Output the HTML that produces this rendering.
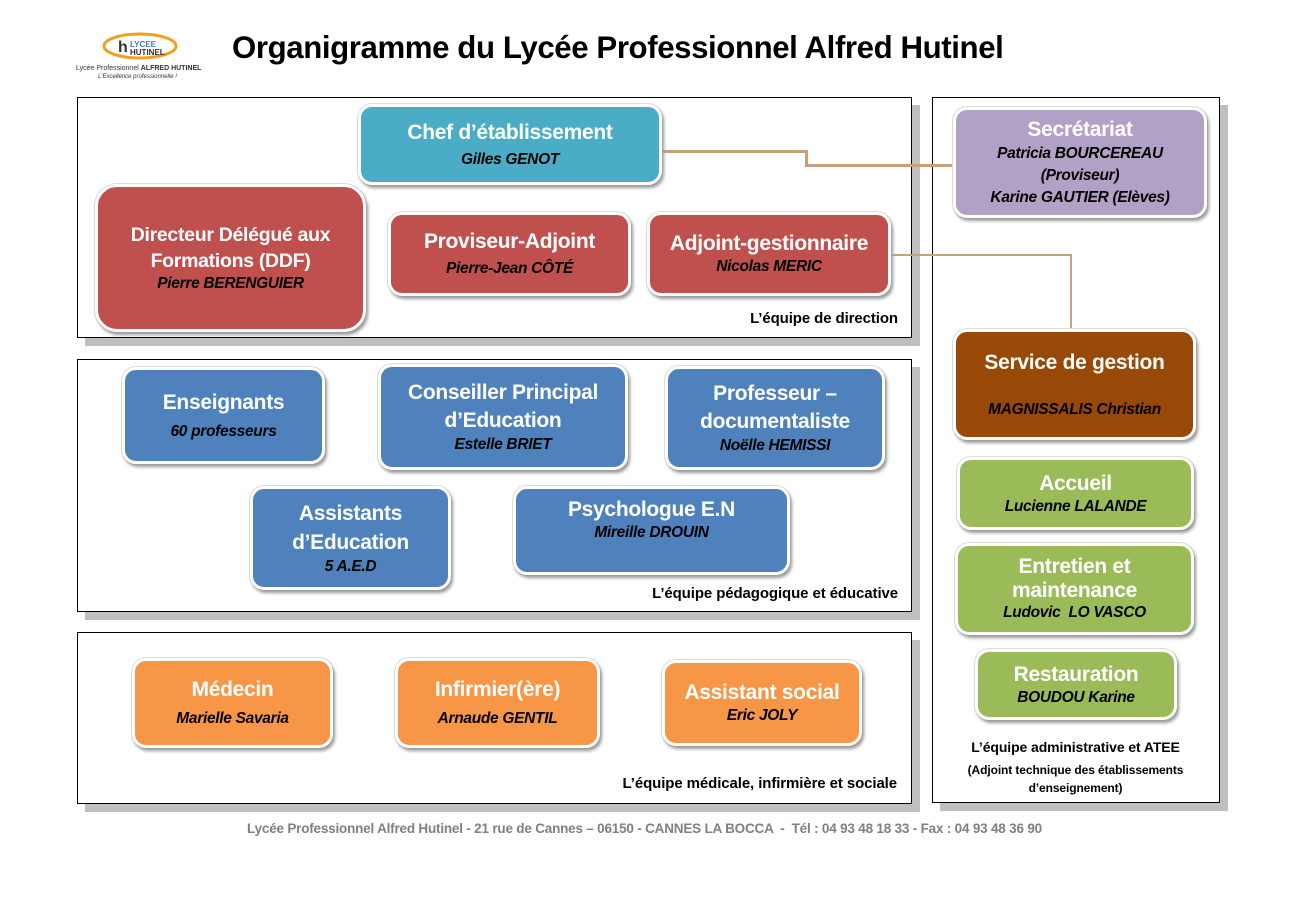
<!DOCTYPE html>
<html><head><meta charset="utf-8"><style>
body{margin:0;width:1289px;height:911px;background:#fff;position:relative;font-family:"Liberation Sans",sans-serif;overflow:hidden}
.a{position:absolute}
.panel{position:absolute;border:1px solid #000;background:#fff;box-shadow:8px 8px 0 #bfbfbf}
.box{position:absolute;box-sizing:border-box;border:3px solid #fff;border-radius:14px;box-shadow:2px 3px 3px #999,0 0 0 1px #ddd;color:#fff;text-align:center;display:flex;flex-direction:column;justify-content:center;align-items:center;letter-spacing:-0.3px;white-space:nowrap}
.t{font-weight:bold;font-size:21px;line-height:26px}
.n{font-weight:bold;font-style:italic;font-size:15.5px;color:#000;line-height:20px}
.lbl{position:absolute;font-weight:bold;font-size:15px;color:#000;letter-spacing:-0.1px;white-space:nowrap}
.ln{position:absolute;background:#c9a07e}
</style></head><body>
<div class="a" style="left:100px;top:30px;width:80px;height:34px">
<svg width="80" height="34"><ellipse cx="40" cy="16" rx="36" ry="12" fill="none" stroke="#f0a020" stroke-width="3"/><text x="18" y="22" font-family="Liberation Sans" font-weight="bold" font-size="16" fill="#333">h</text><text x="30" y="17" font-family="Liberation Sans" font-weight="bold" font-size="8" fill="#4a7ab5">LYCEE</text><text x="30" y="25" font-family="Liberation Sans" font-weight="bold" font-size="8" fill="#333">HUTINEL</text></svg></div>
<div class="a" style="left:76px;top:65px;font-size:7px;color:#333">Lycée Professionnel <b>ALFRED HUTINEL</b></div>
<div class="a" style="left:98px;top:74px;font-size:6px;font-style:italic;color:#333">L'Excellence professionnelle !</div>
<div class="a" style="left:232px;top:30px;font-size:31.2px;font-weight:bold;letter-spacing:-0.4px;white-space:nowrap">Organigramme du Lycée Professionnel Alfred Hutinel</div>

<div class="panel" style="left:77px;top:97px;width:833px;height:239px"></div>
<div class="panel" style="left:77px;top:359px;width:833px;height:251px"></div>
<div class="panel" style="left:77px;top:632px;width:833px;height:170px"></div>
<div class="panel" style="left:932px;top:97px;width:286px;height:704px"></div>

<div class="ln" style="left:662px;top:150px;width:146px;height:3px"></div>
<div class="ln" style="left:805px;top:150px;width:3px;height:17px"></div>
<div class="ln" style="left:805px;top:164px;width:150px;height:3px"></div>
<div class="ln" style="left:891px;top:254px;width:181px;height:2px"></div>
<div class="ln" style="left:1070px;top:254px;width:2px;height:76px"></div>

<div class="box" style="left:358px;top:104px;width:304px;height:81px;background:#4bacc6"><div class="t">Chef d’établissement</div><div class="n" style="margin-top:4px">Gilles GENOT</div></div>
<div class="box" style="left:95px;top:184px;width:271px;height:148px;background:#c0504d;border-radius:22px"><div class="t" style="font-size:19.5px">Directeur Délégué aux<br>Formations (DDF)</div><div class="n">Pierre BERENGUIER</div></div>
<div class="box" style="left:388px;top:212px;width:243px;height:84px;background:#c0504d"><div class="t">Proviseur-Adjoint</div><div class="n" style="margin-top:4px">Pierre-Jean CÔTÉ</div></div>
<div class="box" style="left:647px;top:212px;width:244px;height:84px;background:#c0504d"><div class="t">Adjoint-gestionnaire</div><div class="n">Nicolas MERIC</div></div>
<div class="lbl" style="right:391px;top:310px">L’équipe de direction</div>

<div class="box" style="left:953px;top:107px;width:254px;height:111px;background:#b2a1c7"><div class="t">Secrétariat</div><div class="n" style="line-height:22px">Patricia BOURCEREAU<br>(Proviseur)<br>Karine GAUTIER (Elèves)</div></div>
<div class="box" style="left:953px;top:329px;width:243px;height:111px;background:#984807"><div class="t">Service de gestion</div><div class="n" style="margin-top:24px">MAGNISSALIS Christian</div></div>
<div class="box" style="left:957px;top:457px;width:237px;height:73px;background:#9bbb59"><div class="t">Accueil</div><div class="n">Lucienne LALANDE</div></div>
<div class="box" style="left:955px;top:543px;width:239px;height:92px;background:#9bbb59"><div class="t" style="line-height:24px">Entretien et<br>maintenance</div><div class="n">Ludovic &nbsp;LO VASCO</div></div>
<div class="box" style="left:975px;top:649px;width:202px;height:71px;background:#9bbb59"><div class="t">Restauration</div><div class="n">BOUDOU Karine</div></div>
<div class="lbl" style="left:932px;top:739px;width:287px;text-align:center;font-size:14px">L’équipe administrative et ATEE</div>
<div class="lbl" style="left:932px;top:761px;width:287px;text-align:center;font-size:12px;line-height:18px">(Adjoint technique des établissements<br>d’enseignement)</div>

<div class="box" style="left:122px;top:367px;width:203px;height:97px;background:#4f81bd"><div class="t">Enseignants</div><div class="n" style="margin-top:6px">60 professeurs</div></div>
<div class="box" style="left:378px;top:364px;width:250px;height:106px;background:#4f81bd"><div class="t" style="line-height:28px">Conseiller Principal<br>d’Education</div><div class="n">Estelle BRIET</div></div>
<div class="box" style="left:665px;top:366px;width:220px;height:104px;background:#4f81bd"><div class="t" style="line-height:28px">Professeur –<br>documentaliste</div><div class="n">Noëlle HEMISSI</div></div>
<div class="box" style="left:250px;top:486px;width:201px;height:104px;background:#4f81bd"><div class="t" style="line-height:29px">Assistants<br>d’Education</div><div class="n">5 A.E.D</div></div>
<div class="box" style="left:513px;top:486px;width:277px;height:89px;background:#4f81bd;justify-content:flex-start;padding-top:8px"><div class="t">Psychologue E.N</div><div class="n">Mireille DROUIN</div></div>
<div class="lbl" style="right:391px;top:585px">L’équipe pédagogique et éducative</div>

<div class="box" style="left:132px;top:658px;width:201px;height:90px;background:#f79646"><div class="t">Médecin</div><div class="n" style="margin-top:6px">Marielle Savaria</div></div>
<div class="box" style="left:395px;top:658px;width:205px;height:90px;background:#f79646"><div class="t">Infirmier(ère)</div><div class="n" style="margin-top:6px">Arnaude GENTIL</div></div>
<div class="box" style="left:662px;top:660px;width:200px;height:86px;background:#f79646"><div class="t">Assistant social</div><div class="n">Eric JOLY</div></div>
<div class="lbl" style="right:392px;top:775px">L’équipe médicale, infirmière et sociale</div>

<div class="a" style="left:0;top:821px;width:1289px;text-align:center;font-size:13.5px;font-weight:bold;color:#808080;letter-spacing:-0.2px;white-space:nowrap">Lycée Professionnel Alfred Hutinel - 21 rue de Cannes – 06150 - CANNES LA BOCCA &nbsp;- &nbsp;Tél : 04 93 48 18 33 - Fax : 04 93 48 36 90</div>
</body></html>
